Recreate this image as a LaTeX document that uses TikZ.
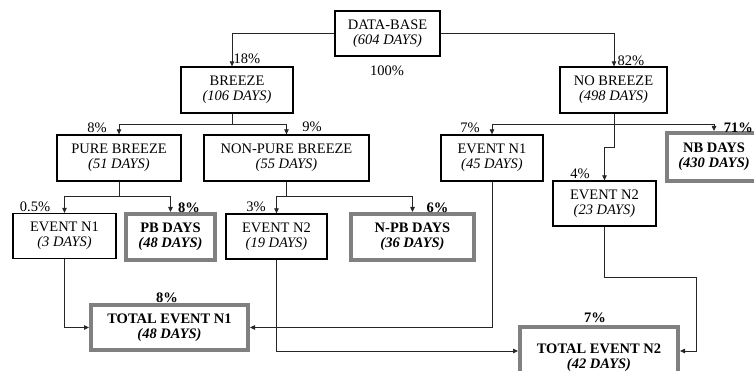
\documentclass[tikz,border=0pt]{standalone}
\usepackage{fontspec}
\setmainfont{Liberation Serif}
\usetikzlibrary{arrows.meta,calc}
\definecolor{boxgrey}{RGB}{128,128,128}
\begin{document}
\begin{tikzpicture}[x=1pt,y=-1pt,
  every node/.style={font=\fontsize{14.5}{15}\selectfont},
  bbox/.style 2 args={draw=black,line width=1.3pt,minimum width=#1pt,minimum height=#2pt,inner sep=0pt,align=center},
  gbox/.style 2 args={draw=boxgrey,line width=4pt,minimum width=#1pt,minimum height=#2pt,inner sep=0pt,align=center},
  conn/.style={draw=black!85,line width=0.8pt},
  arr/.style={conn,-{Triangle[length=5pt,width=4.5pt]}},
  lbl/.style={inner sep=0pt},
  blbl/.style={inner sep=0pt,font=\fontsize{14.5}{15}\selectfont\bfseries}]
\useasboundingbox (0,0) rectangle (754,371);

% boxes
\node[bbox={105}{45}] (db) at (387.5,33.5) {DATA-BASE\\\textit{(604 DAYS)}};
\node[bbox={112}{46}] (breeze) at (237,90) {BREEZE\\\textit{(106 DAYS)}};
\node[bbox={107}{46}] (nobreeze) at (613.5,90) {NO BREEZE\\\textit{(498 DAYS)}};
\node[bbox={124}{46}] (pure) at (119,158) {PURE BREEZE\\\textit{(51 DAYS)}};
\node[bbox={165}{46}] (nonpure) at (286.5,158) {NON-PURE BREEZE\\\textit{(55 DAYS)}};
\node[bbox={102}{46}] (ev1r) at (492,158) {EVENT N1\\\textit{(45 DAYS)}};
\node[gbox={94}{48}] (nbdays) at (714,157) {\textbf{NB DAYS}\\\textbf{\textit{(430 DAYS)}}};
\node[bbox={103}{45}] (ev2r) at (604.5,203.5) {EVENT N2\\\textit{(23 DAYS)}};
\node[bbox={103}{45}] (ev1l) at (64.5,236) {EVENT N1\\\textit{(3 DAYS)}};
\node[gbox={89}{46}] (pb) at (170.5,237) {\textbf{PB DAYS}\\\textbf{\textit{(48 DAYS)}}};
\node[bbox={101}{45}] (ev2l) at (276.5,236.5) {EVENT N2\\\textit{(19 DAYS)}};
\node[gbox={123}{46}] (npb) at (412.5,237) {\textbf{N-PB DAYS}\\\textbf{\textit{(36 DAYS)}}};
\node[gbox={157}{45}] (tot1) at (169.5,327.5) {\textbf{TOTAL EVENT N1}\\\textbf{\textit{(48 DAYS)}}};
\node[gbox={158}{62}] (tot2) at (599,358) {\textbf{TOTAL EVENT N2}\\\textbf{\textit{(42 DAYS)}}};

% branch points
\coordinate (b1) at (232,124);
\coordinate (n1) at (614,124);
\coordinate (n2) at (614,147);
\coordinate (p1) at (119,196);
\coordinate (q1) at (286.5,196);
\coordinate (r1) at (696,277);

% connectors
\draw[arr] (db.west) -| (b1 |- breeze.north);
\draw[arr] (db.east) -| (n1 |- nobreeze.north);
\draw[conn] (breeze.south -| b1) -- (b1);
\draw[arr] (b1) -| (pure.north);
\draw[arr] (b1) -| (nonpure.north);
\draw[conn] (nobreeze.south -| n1) -- (n1);
\draw[arr] (n1) -| (ev1r.north);
\draw[arr] (n1) -| (nbdays.north);
\draw[arr] (n1) -- (n2) -| (ev2r.north);
\draw[conn] (pure.south) -- (p1);
\draw[arr] (p1) -| (ev1l.north);
\draw[arr] (p1) -| (pb.north);
\draw[conn] (nonpure.south -| q1) -- (q1);
\draw[arr] (q1) -| (ev2l.north);
\draw[arr] (q1) -| (npb.north);
\draw[arr] (ev1l.south) |- (tot1.west);
\draw[arr] (ev1r.south) |- (tot1.east);
\draw[arr] (ev2l.south) |- ([yshift=7pt]tot2.west);
\draw[arr] (ev2r.south) |- (r1) |- ([yshift=7pt]tot2.east);

% percentages
\node[lbl] (l100) at (387,71) {100\%};
\node[lbl] (l18) at (247,59) {18\%};
\node[lbl] (l82) at (631,61) {82\%};
\node[lbl] (l8a) at (97,128) {8\%};
\node[lbl] (l9) at (312,127) {9\%};
\node[lbl] (l7a) at (470,128) {7\%};
\node[blbl,anchor=east] (l71) at (753,128) {71\%};
\node[lbl] (l4) at (580,174) {4\%};
\node[lbl] (l05) at (35,207) {0.5\%};
\node[blbl] (l8b) at (189,208) {8\%};
\node[lbl] (l3) at (256,207) {3\%};
\node[blbl] (l6) at (437.5,208) {6\%};
\node[blbl] (l8c) at (167,298) {8\%};
\node[blbl] (l7b) at (595,318) {7\%};
\end{tikzpicture}
\end{document}
